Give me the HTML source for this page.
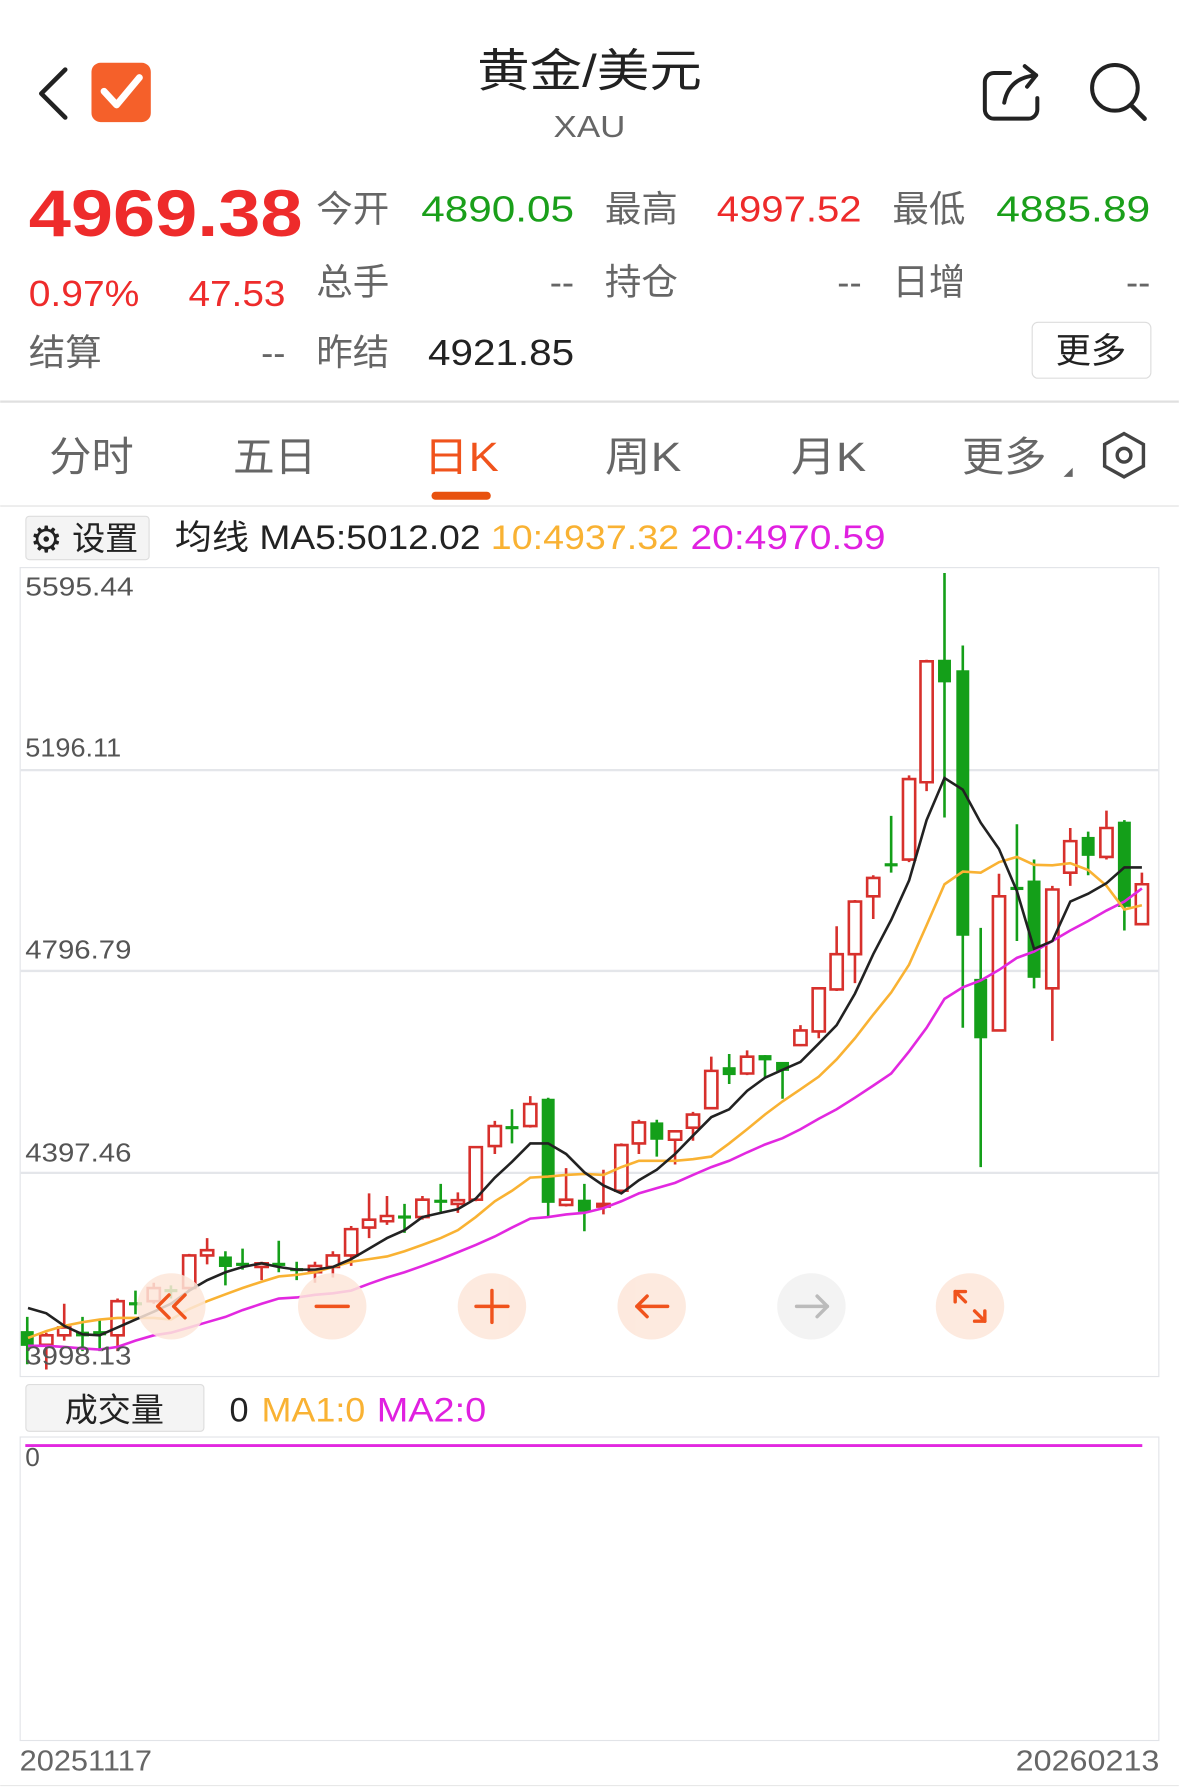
<!DOCTYPE html>
<html><head><meta charset="utf-8">
<style>
html,body{margin:0;padding:0;background:#fff;}
svg{display:block;}
text{font-family:"Liberation Sans","Noto Sans CJK SC",sans-serif;}
</style></head>
<body>
<svg width="1179" height="1789" viewBox="0 0 1033 1568" xmlns="http://www.w3.org/2000/svg">
<rect width="1033" height="1568" fill="#fff"/>
<!-- header -->
<polyline points="57,61 36,82 57,103" fill="none" stroke="#222" stroke-width="4" stroke-linecap="round" stroke-linejoin="round"/>
<rect x="80" y="55" width="52" height="52" rx="8" fill="#f5602a"/>
<polyline points="91,80 102,92 122,68" fill="none" stroke="#fff" stroke-width="6" stroke-linecap="round" stroke-linejoin="round"/>
<text x="418" y="76" font-size="40" fill="#222" textLength="197" lengthAdjust="spacingAndGlyphs">黄金/美元</text>
<text x="485" y="120" font-size="27" fill="#666" textLength="63" lengthAdjust="spacingAndGlyphs">XAU</text>
<path d="M885,64 h-14 a8,8 0 0 0 -8,8 v24 a8,8 0 0 0 8,8 h30 a8,8 0 0 0 8,-8 v-10" fill="none" stroke="#222" stroke-width="3.5" stroke-linecap="round"/>
<path d="M880,90 q4,-22 28,-24 M898,58 l10,8 l-8,10" fill="none" stroke="#222" stroke-width="3.5" stroke-linecap="round" stroke-linejoin="round"/>
<circle cx="977" cy="77" r="20" fill="none" stroke="#222" stroke-width="3.5"/>
<line x1="991" y1="92" x2="1003" y2="104" stroke="#222" stroke-width="4" stroke-linecap="round"/>
<!-- quote -->
<text x="25" y="207" font-size="58" font-weight="bold" fill="#ee2b2b" textLength="240" lengthAdjust="spacingAndGlyphs">4969.38</text>
<g font-size="32">
<text x="277" y="194" fill="#666">今开</text>
<text x="369" y="194" fill="#1a9f1a" textLength="134" lengthAdjust="spacingAndGlyphs">4890.05</text>
<text x="530" y="194" fill="#666">最高</text>
<text x="628" y="194" fill="#ee2b2b" textLength="127" lengthAdjust="spacingAndGlyphs">4997.52</text>
<text x="782" y="194" fill="#666">最低</text>
<text x="873" y="194" fill="#1a9f1a" textLength="135" lengthAdjust="spacingAndGlyphs">4885.89</text>
<text x="25" y="268" fill="#ee2b2b" textLength="97" lengthAdjust="spacingAndGlyphs">0.97%</text>
<text x="165" y="268" fill="#ee2b2b" textLength="85" lengthAdjust="spacingAndGlyphs">47.53</text>
<text x="277" y="258" fill="#666">总手</text>
<text x="503" y="258" fill="#666" text-anchor="end">--</text>
<text x="530" y="258" fill="#666">持仓</text>
<text x="755" y="258" fill="#666" text-anchor="end">--</text>
<text x="782" y="258" fill="#666">日增</text>
<text x="1008" y="258" fill="#666" text-anchor="end">--</text>
<text x="25" y="320" fill="#666">结算</text>
<text x="250" y="320" fill="#666" text-anchor="end">--</text>
<text x="277" y="320" fill="#666">昨结</text>
<text x="375" y="320" fill="#222" textLength="128" lengthAdjust="spacingAndGlyphs">4921.85</text>
</g>
<rect x="904.5" y="282.5" width="104" height="49" rx="5" fill="#fff" stroke="#ddd"/>
<text x="956" y="318" font-size="31" fill="#222" text-anchor="middle">更多</text>
<rect x="0" y="351" width="1033" height="2" fill="#e0e0e0"/>
<!-- tabs -->
<g font-size="36">
<text x="43" y="413" fill="#666" textLength="74" lengthAdjust="spacingAndGlyphs">分时</text>
<text x="204" y="413" fill="#666" textLength="73" lengthAdjust="spacingAndGlyphs">五日</text>
<text x="371" y="413" fill="#f0531c" textLength="66" lengthAdjust="spacingAndGlyphs">日K</text>
<text x="530" y="413" fill="#666" textLength="67" lengthAdjust="spacingAndGlyphs">周K</text>
<text x="693" y="413" fill="#666" textLength="66" lengthAdjust="spacingAndGlyphs">月K</text>
<text x="843" y="413" fill="#666" textLength="74" lengthAdjust="spacingAndGlyphs">更多</text>
</g>
<polygon points="932,418 940,410 940,418" fill="#666"/>
<polygon points="985,380 1002,389.5 1002,408.5 985,418 968,408.5 968,389.5" fill="none" stroke="#444" stroke-width="3"/>
<circle cx="985" cy="399" r="6" fill="none" stroke="#444" stroke-width="3"/>
<rect x="378" y="431" width="52" height="7" rx="3.5" fill="#e8520f"/>
<rect x="0" y="443" width="1033" height="1" fill="#e0e0e0"/>
<!-- MA legend -->
<rect x="22.5" y="452.5" width="108" height="38" rx="3" fill="#f4f4f4" stroke="#ddd"/>
<text x="26" y="484" font-size="32" fill="#222">⚙</text>
<text x="63" y="482" font-size="29" fill="#222">设置</text>
<text x="153" y="481" font-size="30" fill="#222" textLength="268" lengthAdjust="spacingAndGlyphs">均线 MA5:5012.02</text>
<text x="430" y="481" font-size="30" fill="#f9b233" textLength="165" lengthAdjust="spacingAndGlyphs">10:4937.32</text>
<text x="605" y="481" font-size="30" fill="#e020e0" textLength="171" lengthAdjust="spacingAndGlyphs">20:4970.59</text>
<!-- chart box -->
<rect x="17.5" y="497.5" width="998" height="709" fill="none" stroke="#e2e4e8"/>
<g stroke="#e4e6ea" stroke-width="2">
<line x1="18" y1="675" x2="1015" y2="675"/>
<line x1="18" y1="851" x2="1015" y2="851"/>
<line x1="18" y1="1028" x2="1015" y2="1028"/>
</g>
<g font-size="23" fill="#555">
<text x="22" y="522" textLength="95" lengthAdjust="spacingAndGlyphs">5595.44</text>
<text x="22" y="663" textLength="84" lengthAdjust="spacingAndGlyphs">5196.11</text>
<text x="22" y="840" textLength="93" lengthAdjust="spacingAndGlyphs">4796.79</text>
<text x="22" y="1018" textLength="93" lengthAdjust="spacingAndGlyphs">4397.46</text>
</g>
<g transform="translate(1,493) scale(0.334,0.4608)" fill="none" stroke-width="2.6">
<path vector-effect="non-scaling-stroke" stroke="#d7302c" d="
M165,1410V1480 M118,1465V1535 M305,1400V1500 M400,1370V1410 M493,1315V1385 M540,1285V1335 M683,1330V1365 M823,1330V1370 M870,1310V1360 M918,1262V1338 M965,1200V1285 M1012,1205V1260 M1105,1205V1250 M1198,1198V1237 M1245,1110V1215 M1295,1062V1125 M1388,1015V1075 M1482,1152V1225
M1580,1155V1240 M1627,1105V1200 M1673,1060V1125 M1768,1080V1145 M1815,1045V1100 M1863,940V1040 M1957,928V975 M2097,880V920 M2145,808V905 M2192,692V815 M2240,642V800 M2288,595V678 M2382,405V570 M2428,185V435 M2618,592V892 M2758,615V910 M2805,505V615 M2900,472V565 M2993,590V690"/>
<path vector-effect="non-scaling-stroke" stroke="#149f19" d="
M68,1435V1525 M213,1435V1500 M258,1440V1500 M352,1385V1430 M445,1375V1400 M588,1310V1375 M633,1305V1345 M728,1290V1350 M775,1330V1365 M1058,1220V1275 M1153,1182V1235 M1340,1040V1105 M1435,1018V1245 M1530,1182V1272
M1720,1060V1130 M1910,935V992 M2004,937V980 M2050,950V1020 M2335,482V590 M2475,20V485 M2523,158V885 M2570,695V1150 M2665,498V720 M2710,565V810 M2852,512V595 M2947,490V700"/>
<g fill="#fff" stroke="#d7302c">
<rect vector-effect="non-scaling-stroke" x="102" y="1470" width="32" height="18"/>
<rect vector-effect="non-scaling-stroke" x="149" y="1455" width="32" height="15"/>
<rect vector-effect="non-scaling-stroke" x="289" y="1405" width="32" height="65"/>
<rect vector-effect="non-scaling-stroke" x="384" y="1380" width="32" height="25"/>
<rect vector-effect="non-scaling-stroke" x="477" y="1318" width="32" height="62"/>
<rect vector-effect="non-scaling-stroke" x="524" y="1308" width="32" height="10"/>
<rect vector-effect="non-scaling-stroke" x="667" y="1333" width="32" height="7"/>
<rect vector-effect="non-scaling-stroke" x="807" y="1338" width="32" height="12"/>
<rect vector-effect="non-scaling-stroke" x="854" y="1318" width="32" height="22"/>
<rect vector-effect="non-scaling-stroke" x="902" y="1268" width="32" height="50"/>
<rect vector-effect="non-scaling-stroke" x="949" y="1250" width="32" height="15"/>
<rect vector-effect="non-scaling-stroke" x="996" y="1243" width="32" height="10"/>
<rect vector-effect="non-scaling-stroke" x="1089" y="1212" width="32" height="33"/>
<rect vector-effect="non-scaling-stroke" x="1182" y="1213" width="32" height="7"/>
<rect vector-effect="non-scaling-stroke" x="1229" y="1112" width="32" height="100"/>
<rect vector-effect="non-scaling-stroke" x="1279" y="1072" width="32" height="38"/>
<rect vector-effect="non-scaling-stroke" x="1372" y="1030" width="32" height="42"/>
<rect vector-effect="non-scaling-stroke" x="1466" y="1212" width="32" height="10"/>
<rect vector-effect="non-scaling-stroke" x="1564" y="1220" width="32" height="5"/>
<rect vector-effect="non-scaling-stroke" x="1611" y="1108" width="32" height="87"/>
<rect vector-effect="non-scaling-stroke" x="1657" y="1065" width="32" height="40"/>
<rect vector-effect="non-scaling-stroke" x="1752" y="1082" width="32" height="16"/>
<rect vector-effect="non-scaling-stroke" x="1799" y="1050" width="32" height="25"/>
<rect vector-effect="non-scaling-stroke" x="1847" y="967" width="32" height="71"/>
<rect vector-effect="non-scaling-stroke" x="1941" y="940" width="32" height="32"/>
<rect vector-effect="non-scaling-stroke" x="2081" y="890" width="32" height="28"/>
<rect vector-effect="non-scaling-stroke" x="2129" y="810" width="32" height="82"/>
<rect vector-effect="non-scaling-stroke" x="2176" y="745" width="32" height="67"/>
<rect vector-effect="non-scaling-stroke" x="2224" y="645" width="32" height="100"/>
<rect vector-effect="non-scaling-stroke" x="2272" y="600" width="32" height="35"/>
<rect vector-effect="non-scaling-stroke" x="2366" y="412" width="32" height="153"/>
<rect vector-effect="non-scaling-stroke" x="2412" y="188" width="32" height="230"/>
<rect vector-effect="non-scaling-stroke" x="2602" y="635" width="32" height="255"/>
<rect vector-effect="non-scaling-stroke" x="2742" y="622" width="32" height="188"/>
<rect vector-effect="non-scaling-stroke" x="2789" y="530" width="32" height="60"/>
<rect vector-effect="non-scaling-stroke" x="2884" y="505" width="32" height="55"/>
<rect vector-effect="non-scaling-stroke" x="2977" y="612" width="32" height="76"/>
</g>
<g fill="#149f19" stroke="none">
<rect x="51" y="1462" width="34" height="28"/>
<rect x="196" y="1463" width="34" height="9"/>
<rect x="241" y="1462" width="34" height="8"/>
<rect x="335" y="1407" width="34" height="6"/>
<rect x="428" y="1382" width="34" height="6"/>
<rect x="571" y="1320" width="34" height="20"/>
<rect x="616" y="1332" width="34" height="6"/>
<rect x="711" y="1332" width="34" height="6"/>
<rect x="758" y="1342" width="34" height="6"/>
<rect x="1041" y="1242" width="34" height="6"/>
<rect x="1136" y="1212" width="34" height="6"/>
<rect x="1323" y="1072" width="34" height="6"/>
<rect x="1418" y="1020" width="34" height="198"/>
<rect x="1513" y="1212" width="34" height="23"/>
<rect x="1703" y="1065" width="34" height="33"/>
<rect x="1893" y="960" width="34" height="15"/>
<rect x="1987" y="937" width="34" height="10"/>
<rect x="2033" y="950" width="34" height="17"/>
<rect x="2318" y="572" width="34" height="6"/>
<rect x="2458" y="185" width="34" height="43"/>
<rect x="2506" y="205" width="34" height="505"/>
<rect x="2553" y="792" width="34" height="113"/>
<rect x="2648" y="617" width="34" height="6"/>
<rect x="2693" y="605" width="34" height="185"/>
<rect x="2835" y="522" width="34" height="36"/>
<rect x="2930" y="493" width="34" height="162"/>
</g>
<polyline vector-effect="non-scaling-stroke" stroke="#e228e0" points="70,1490 118,1490 165,1492 213,1495 258,1497 305,1492 352,1480 400,1470 445,1465 493,1455 540,1445 588,1435 633,1422 683,1410 728,1400 775,1398 823,1393 870,1390 918,1385 965,1372 1012,1360 1058,1350 1105,1338 1153,1325 1198,1312 1245,1298 1295,1282 1340,1265 1388,1248 1435,1245 1482,1240 1530,1237 1580,1228 1627,1215 1673,1200 1720,1190 1768,1180 1815,1165 1863,1150 1910,1138 1957,1122 2004,1107 2050,1095 2097,1078 2145,1058 2192,1040 2240,1018 2288,995 2335,972 2382,930 2428,885 2475,830 2523,808 2570,795 2618,775 2665,752 2710,740 2758,720 2805,700 2852,682 2900,662 2947,645 2993,620"/>
<polyline vector-effect="non-scaling-stroke" stroke="#f9b233" points="70,1475 118,1462 165,1452 213,1445 258,1440 305,1437 352,1437 400,1437 445,1440 493,1420 540,1405 588,1392 633,1380 683,1368 728,1358 775,1355 823,1350 870,1340 918,1330 965,1325 1012,1320 1058,1310 1105,1298 1153,1285 1198,1270 1245,1245 1295,1215 1340,1195 1388,1170 1435,1168 1482,1165 1530,1163 1580,1165 1627,1150 1673,1138 1720,1138 1768,1138 1815,1135 1863,1130 1910,1105 1957,1078 2004,1050 2050,1025 2097,1002 2145,978 2192,945 2240,905 2288,860 2335,818 2382,765 2428,690 2475,612 2523,588 2570,590 2618,570 2665,560 2710,575 2758,576 2805,572 2852,585 2900,615 2947,660 2993,652"/>
<polyline vector-effect="non-scaling-stroke" stroke="#222" points="70,1418 118,1428 165,1452 213,1468 258,1470 305,1455 352,1440 400,1425 445,1410 493,1385 540,1365 588,1350 633,1340 683,1333 728,1340 775,1345 823,1345 870,1340 918,1325 965,1305 1012,1285 1058,1270 1105,1245 1153,1237 1198,1230 1245,1210 1295,1170 1340,1140 1388,1105 1435,1105 1482,1125 1530,1160 1580,1185 1627,1200 1673,1175 1720,1155 1768,1125 1815,1090 1863,1055 1910,1040 1957,1005 2004,980 2050,965 2097,950 2145,915 2192,880 2240,820 2288,745 2335,680 2382,605 2428,490 2475,410 2523,432 2570,495 2618,545 2665,625 2710,735 2758,720 2805,645 2852,630 2900,610 2947,580 2993,580"/>
</g>
<text x="22" y="1196" font-size="23" fill="#555" textLength="93" lengthAdjust="spacingAndGlyphs">3998.13</text>
<!-- floating buttons -->
<g fill="#fde6d9" opacity="0.85">
<ellipse cx="150" cy="1145" rx="30" ry="29"/>
<ellipse cx="291" cy="1145" rx="30" ry="29"/>
<ellipse cx="431" cy="1145" rx="30" ry="29"/>
<ellipse cx="571" cy="1145" rx="30" ry="29"/>
<ellipse cx="850" cy="1145" rx="30" ry="29"/>
</g>
<ellipse cx="711" cy="1145" rx="30" ry="29" fill="#f2f2f2" opacity="0.9"/>
<g fill="none" stroke="#f0531c" stroke-width="3" stroke-linecap="round" stroke-linejoin="round">
<polyline points="148,1135 138,1145 148,1155"/><polyline points="162,1135 152,1145 162,1155"/>
<line x1="277" y1="1145" x2="305" y2="1145"/>
<line x1="417" y1="1145" x2="445" y2="1145"/><line x1="431" y1="1131" x2="431" y2="1159"/>
<line x1="558" y1="1145" x2="585" y2="1145"/><polyline points="567,1136 558,1145 567,1154"/>
<polyline points="837,1141 837,1132 846,1132"/><line x1="837" y1="1132" x2="846" y2="1141"/>
<polyline points="863,1149 863,1158 854,1158"/><line x1="863" y1="1158" x2="854" y2="1149"/>
</g>
<g fill="none" stroke="#bbb" stroke-width="3" stroke-linecap="round" stroke-linejoin="round">
<line x1="698" y1="1145" x2="725" y2="1145"/><polyline points="716,1136 725,1145 716,1154"/>
</g>
<!-- volume -->
<rect x="22.5" y="1213.5" width="156" height="41" rx="3" fill="#f4f4f4" stroke="#ddd"/>
<text x="100" y="1246" font-size="29" fill="#222" text-anchor="middle">成交量</text>
<text x="201" y="1246" font-size="30" fill="#222">0</text>
<text x="229" y="1246" font-size="30" fill="#f9b233" textLength="91" lengthAdjust="spacingAndGlyphs">MA1:0</text>
<text x="330" y="1246" font-size="30" fill="#e020e0" textLength="96" lengthAdjust="spacingAndGlyphs">MA2:0</text>
<rect x="17.5" y="1259.5" width="998" height="266" fill="none" stroke="#e2e4e8"/>
<line x1="22" y1="1267" x2="1001" y2="1267" stroke="#e228e0" stroke-width="2.5"/>
<text x="22" y="1285" font-size="23" fill="#555">0</text>
<text x="17" y="1552" font-size="25" fill="#666" textLength="116" lengthAdjust="spacingAndGlyphs">20251117</text>
<text x="890" y="1552" font-size="25" fill="#666" textLength="126" lengthAdjust="spacingAndGlyphs">20260213</text>
<line x1="0" y1="1565" x2="1033" y2="1565" stroke="#e8e8e8"/>
</svg>
</body></html>
